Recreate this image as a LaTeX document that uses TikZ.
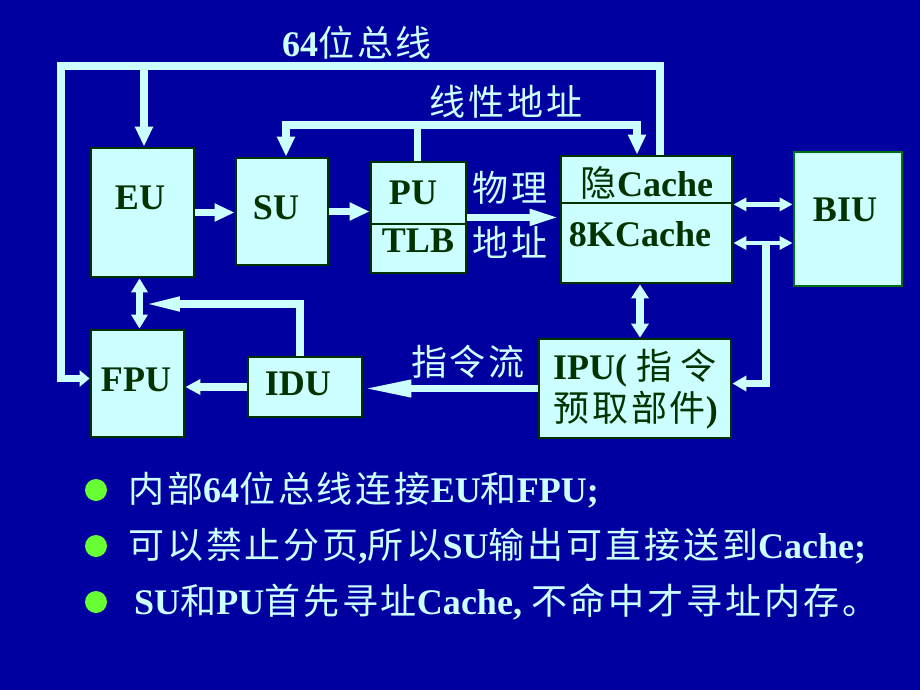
\documentclass[tikz,border=0pt]{standalone}
\usepackage{fontspec}
\setmainfont{Liberation Serif}
\newfontfamily\cjk[LetterSpace=8]{Noto Sans CJK SC}
\newcommand{\zh}[1]{{\cjk\mdseries #1}}
\usetikzlibrary{arrows.meta,fit,calc}
\definecolor{slide}{RGB}{0,0,160}
\definecolor{boxfill}{RGB}{204,255,255}
\definecolor{boxline}{RGB}{0,51,0}
\definecolor{biuline}{RGB}{0,110,20}
\definecolor{wire}{RGB}{204,255,255}
\definecolor{dot}{RGB}{102,255,51}
\tikzset{
  unitbox/.style={draw=boxline,fill=boxfill,line width=1.6pt,inner sep=0pt},
  unitname/.style={text=boxline,font=\fontsize{20.5}{25}\selectfont\bfseries},
  lbl/.style={text=wire,font=\fontsize{20.5}{25}\selectfont\bfseries},
  bus/.style={draw=wire,line width=4.5pt},
  wire/.style={draw=wire,line width=4pt},
  dot/.style={circle,fill=dot,minimum size=0.44cm,inner sep=0pt}
}
\begin{document}
\begin{tikzpicture}[x=0.02cm,y=-0.02cm]
  \fill[slide] (0,0) rectangle (920,690);
  \useasboundingbox (0,0) rectangle (920,690);

  \node[unitbox,fit={(91,148) (194,277)}] (EU) {};
  \node[unitbox,fit={(236,158) (328,265)}] (SU) {};
  \node[unitbox,fit={(371,162) (466,224)}] (PU) {};
  \node[unitbox,fit={(371,224) (466,273)}] (TLB) {};
  \node[unitbox,fit={(561,156) (732,203)}] (hid) {};
  \node[unitbox,fit={(561,203) (732,283)}] (kc) {};
  \node[unitbox,draw=biuline,fit={(794,152) (902,286)}] (BIU) {};
  \node[unitbox,fit={(91,330) (184,437)}] (FPU) {};
  \node[unitbox,fit={(248,357) (362,417)}] (IDU) {};
  \node[unitbox,fit={(539,339) (731,438)}] (IPU) {};

  \node[unitname] at (140,198) {EU};
  \node[unitname] at (276,208) {SU};
  \node[unitname] at (413,193) {PU};
  \node[unitname] at (418,241) {TLB};
  \node[unitname] at (647,183) {\zh{隐}Cache};
  \node[unitname] at (640,234) {8KCache};
  \node[unitname] at (845,210) {BIU};
  \node[unitname] at (136,380) {FPU};
  \node[unitname] at (298,384) {IDU};
  \node[unitname,anchor=west] at (547,368) {IPU(\hspace{5pt}\zh{指}\hspace{5pt}\zh{令}};
  \node[unitname,anchor=west] at (547,410) {\zh{预取部件})};

  \coordinate (busR) at (660,66);
  \coordinate (busL) at (61,66);
  \coordinate (euTap) at (144,66);
  \coordinate (laL) at (286,125);
  \coordinate (laR) at (637,125);
  \coordinate (puUp) at ($(PU.north)+(-1,0)$);
  \coordinate (phys) at ($(PU.south east)+(0,-8)$);
  \coordinate (tap) at (766,243);
  \coordinate (ipuUp) at ($(IPU.north)+(5,0)$);
  \coordinate (fpuUp) at ($(FPU.north)+(2,0)$);
  \coordinate (iduUp) at ($(IDU.north)+(-5,0)$);
  \coordinate (fb) at (143,304);

  \draw[bus,-{Triangle[length=0.2cm,width=0.32cm]}]
    (busR |- hid.north) -- (busR) -- (busL) |- ($(FPU.west)+(0,-5)$);
  \draw[wire,-{Triangle[length=0.4cm,width=0.34cm]}] (euTap) -- (euTap |- EU.north);
  \node[lbl] at (357,43) {64\zh{位总线}};

  \draw[wire] (puUp) -- (puUp |- laL);
  \draw[wire,-{Triangle[length=0.4cm,width=0.34cm]}] (laL -| puUp) -- (laL) -- (laL |- SU.north);
  \draw[wire,-{Triangle[length=0.4cm,width=0.34cm]}] (laL -| puUp) -- (laR) -- (laR |- hid.north);
  \node[lbl] at (506,102) {\zh{线性地址}};

  \draw[wire,-{Triangle[length=0.4cm,width=0.34cm]}] (EU.east) -- (EU.east -| SU.west);
  \draw[wire,-{Triangle[length=0.4cm,width=0.34cm]}] (SU.east) -- (SU.east -| PU.west);
  \draw[wire,-{Triangle[length=0.6cm,width=0.3cm]}] (phys) -- (phys -| kc.west);
  \node[lbl] at (510,188) {\zh{物理}};
  \node[lbl] at (510,242) {\zh{地址}};

  \draw[wire,line width=2.8pt,{Triangle[length=0.26cm,width=0.26cm]}-{Triangle[length=0.26cm,width=0.26cm]}]
    (hid.south east) -- (hid.south east -| BIU.west);
  \draw[wire,line width=2.8pt,{Triangle[length=0.26cm,width=0.26cm]}-{Triangle[length=0.26cm,width=0.26cm]}]
    (kc.east) -- (kc.east -| BIU.west);
  \draw[wire,-{Triangle[length=0.28cm,width=0.3cm]}] (tap) |- ($(IPU.east)+(0,-5)$);
  \draw[wire,{Triangle[length=0.28cm,width=0.34cm]}-{Triangle[length=0.28cm,width=0.34cm]}]
    (ipuUp) -- (ipuUp |- kc.south);

  \draw[wire,-{Triangle[length=0.96cm,width=0.32cm]}] (IPU.west) -- (IPU.west -| IDU.east);
  \node[lbl] at (468,362) {\zh{指令流}};
  \draw[wire,-{Triangle[length=0.3cm,width=0.3cm]}] (IDU.west) -- (IDU.west -| FPU.east);
  \draw[wire,{Triangle[length=0.28cm,width=0.32cm]}-{Triangle[length=0.28cm,width=0.32cm]}]
    (fpuUp) -- (fpuUp |- EU.south);
  \draw[wire,-{Triangle[length=0.74cm,width=0.26cm]}] (iduUp) |- (fb);

  \node[dot] (d1) at (96,490) {};
  \node[dot] (d2) at (96,546) {};
  \node[dot] (d3) at (96,602) {};
  \node[lbl,anchor=west] (t1) at (122,490) {\zh{内部}64\zh{位总线连接}EU\zh{和}FPU;};
  \node[lbl,anchor=west] (t2) at (122,546) {\zh{可以禁止分页},\zh{所以}SU\zh{输出可直接送到}Cache;};
  \node[lbl,anchor=west] (t3) at (128,602) {SU\zh{和}PU\zh{首先寻址}Cache, \zh{不命中才寻址内存。}};
\end{tikzpicture}
\end{document}
